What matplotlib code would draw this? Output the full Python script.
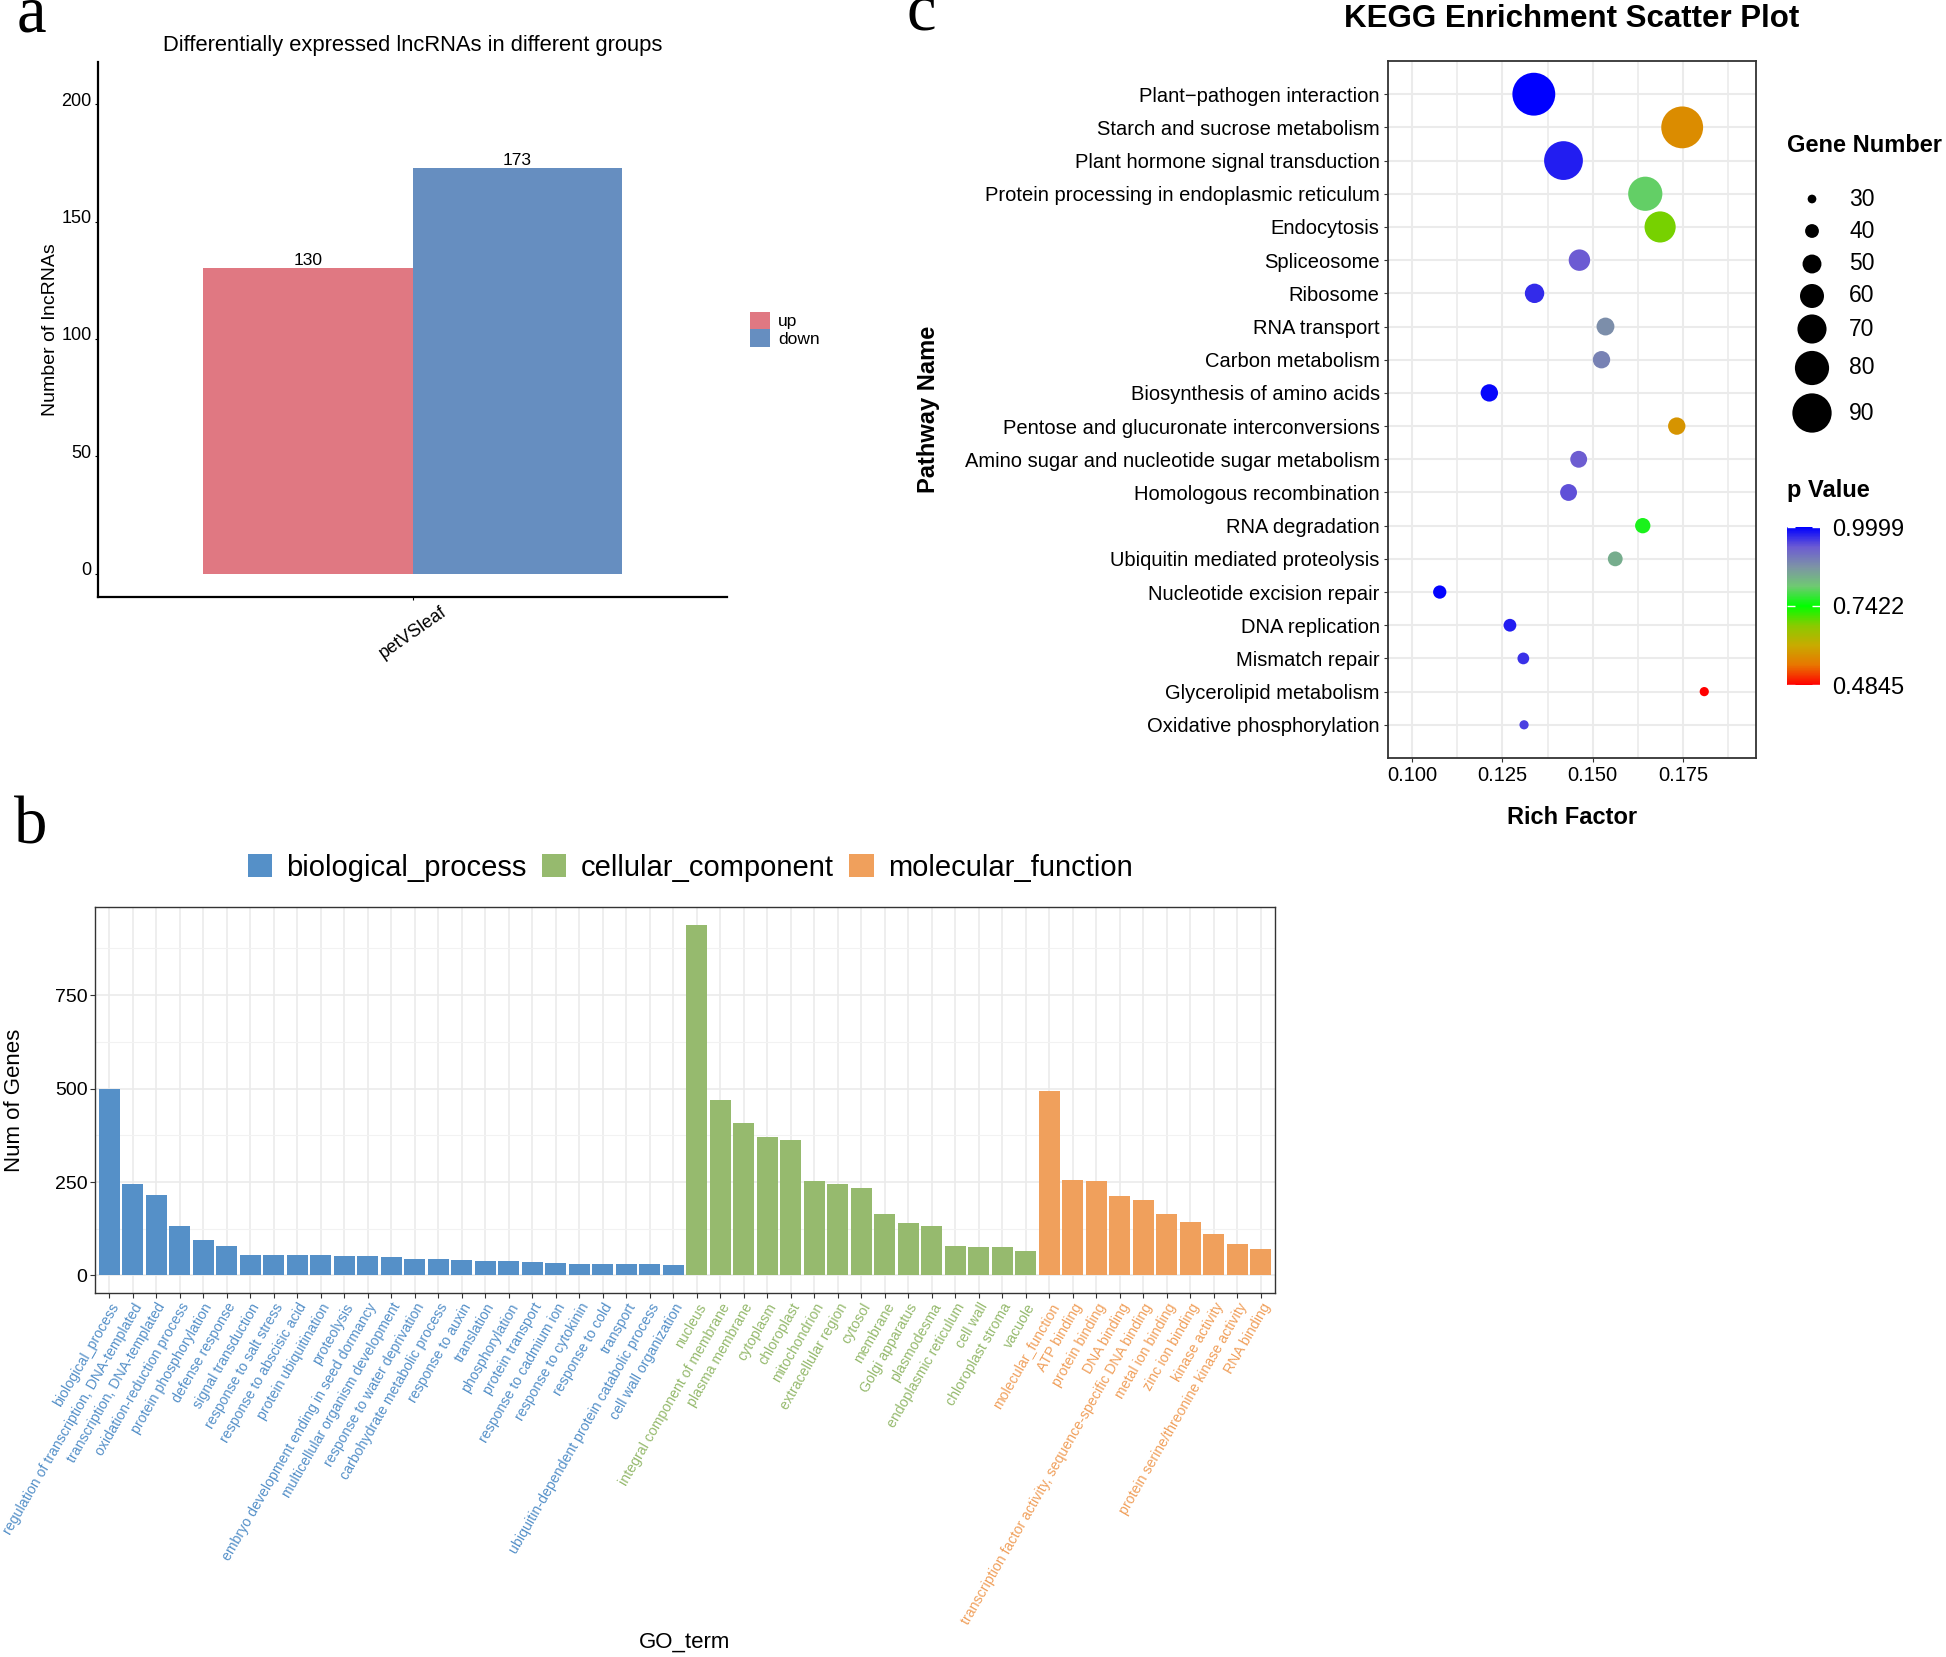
import numpy as np
import matplotlib
matplotlib.use('Agg')
import matplotlib.pyplot as plt
from matplotlib.colors import LinearSegmentedColormap, Normalize
from matplotlib.cm import ScalarMappable
from matplotlib.ticker import MultipleLocator, FormatStrFormatter
from matplotlib.transforms import ScaledTranslation

plt.rcParams['font.family'] = ['Liberation Sans', 'DejaVu Sans']

W, H = 1946, 1657


def rect(l, t, r, b):
    # pixel box -> figure fraction
    return [l / W, 1 - b / H, (r - l) / W, (b - t) / H]


# ---- panel a data
groups = ['petVSleaf']
de_labels = ['up', 'down']
de_counts = [130, 173]
de_colors = ['#E07882', '#668EC0']

# ---- panel b data
bp_terms = ['biological_process', 'regulation of transcription, DNA-templated',
            'transcription, DNA-templated', 'oxidation-reduction process',
            'protein phosphorylation', 'defense response', 'signal transduction',
            'response to salt stress', 'response to abscisic acid',
            'protein ubiquitination', 'proteolysis',
            'embryo development ending in seed dormancy',
            'multicellular organism development', 'response to water deprivation',
            'carbohydrate metabolic process', 'response to auxin', 'translation',
            'phosphorylation', 'protein transport', 'response to cadmium ion',
            'response to cytokinin', 'response to cold', 'transport',
            'ubiquitin-dependent protein catabolic process', 'cell wall organization']
bp_genes = [500, 245, 215, 133, 95, 79, 55, 55, 54, 54, 53, 52, 50, 44, 43,
            41, 38, 38, 36, 33, 31, 30, 30, 30, 29]

cc_terms = ['nucleus', 'integral component of membrane', 'plasma membrane',
            'cytoplasm', 'chloroplast', 'mitochondrion', 'extracellular region',
            'cytosol', 'membrane', 'Golgi apparatus', 'plasmodesma',
            'endoplasmic reticulum', 'cell wall', 'chloroplast stroma', 'vacuole']
cc_genes = [939, 469, 407, 371, 363, 254, 246, 235, 164, 140, 133, 79, 77, 76, 66]

mf_terms = ['molecular_function', 'ATP binding', 'protein binding', 'DNA binding',
            'transcription factor activity, sequence-specific DNA binding',
            'metal ion binding', 'zinc ion binding', 'kinase activity',
            'protein serine/threonine kinase activity', 'RNA binding']
mf_genes = [494, 256, 254, 212, 201, 164, 142, 111, 84, 71]

go_categories = ['biological_process', 'cellular_component', 'molecular_function']
go_colors = ['#5590C8', '#96BA6E', '#F0A05C']

# ---- panel c data
kegg_paths = ['Plant\u2212pathogen interaction', 'Starch and sucrose metabolism',
              'Plant hormone signal transduction',
              'Protein processing in endoplasmic reticulum', 'Endocytosis',
              'Spliceosome', 'Ribosome', 'RNA transport', 'Carbon metabolism',
              'Biosynthesis of amino acids',
              'Pentose and glucuronate interconversions',
              'Amino sugar and nucleotide sugar metabolism',
              'Homologous recombination', 'RNA degradation',
              'Ubiquitin mediated proteolysis', 'Nucleotide excision repair',
              'DNA replication', 'Mismatch repair', 'Glycerolipid metabolism',
              'Oxidative phosphorylation']
rich_factor = [0.1337, 0.1747, 0.1419, 0.1645, 0.1686, 0.1463, 0.1339, 0.1535,
               0.1524, 0.1214, 0.1732, 0.1461, 0.1433, 0.1638, 0.1562, 0.1077,
               0.1271, 0.1308, 0.1808, 0.1310]
gene_number = [97, 95, 89, 80, 74, 55, 51, 48, 47, 47, 47, 46, 46, 43, 42, 39,
               38, 36, 31, 31]
p_value = [0.9999, 0.577, 0.979, 0.799, 0.686, 0.935, 0.969, 0.876, 0.891,
           0.995, 0.587, 0.933, 0.943, 0.758, 0.840, 0.997, 0.979, 0.964,
           0.4845, 0.954]
size_breaks = [30, 40, 50, 60, 70, 80, 90]
p_breaks = [0.4845, 0.7422, 0.9999]

fig = plt.figure(figsize=(W / 100, H / 100), dpi=100)

# ================= panel a
axa = fig.add_axes(rect(98, 62, 727, 597))
for i, (lab, n, c) in enumerate(zip(de_labels, de_counts, de_colors)):
    xp = 0.8 + 0.4 * i
    axa.bar(xp, n, width=0.4, color=c, label=lab)
    axa.text(xp, n, str(n), ha='center', va='bottom', fontsize=12.5)
axa.set_xlim(0.4, 1.6)
axa.set_ylim(-10, 218)
axa.spines[['top', 'right']].set_visible(False)
axa.spines[['left', 'bottom']].set_linewidth(1.6)
axa.set_yticks([0, 50, 100, 150, 200])
axa.set_xticks([1])
axa.set_xticklabels(groups, rotation=35, ha='center')
axa.tick_params(axis='both', length=2.5, labelsize=13, pad=2)
# labels sit a little above their ticks, as in the original
lift = ScaledTranslation(0, 5 / 100, fig.dpi_scale_trans)
for lbl in axa.get_yticklabels():
    lbl.set_transform(lbl.get_transform() + lift)
axa.set_ylabel('Number of lncRNAs', fontsize=14)
axa.yaxis.set_label_coords(-0.076, 0.5)
axa.yaxis.label.set_va('center')
axa.set_title('Differentially expressed lncRNAs in different groups', fontsize=15.8, pad=8)
axa.legend(loc='upper left', bbox_to_anchor=(750 / W, 1 - 312 / H),
           bbox_transform=fig.transFigure, frameon=False, borderpad=0,
           borderaxespad=0, handlelength=1.15, handleheight=1.15,
           labelspacing=0.0, handletextpad=0.45, fontsize=12.5)

# ================= panel b
terms = bp_terms + cc_terms + mf_terms
genes = bp_genes + cc_genes + mf_genes
cat_of = ([0] * len(bp_terms)) + ([1] * len(cc_terms)) + ([2] * len(mf_terms))
x = np.arange(1, len(terms) + 1)

axb = fig.add_axes(rect(95, 907, 1275, 1293))
for k, (cat, col) in enumerate(zip(go_categories, go_colors)):
    idx = [i for i, c in enumerate(cat_of) if c == k]
    axb.bar(x[idx], [genes[i] for i in idx], width=0.9, color=col, label=cat, zorder=2)
axb.set_xlim(0.4, len(terms) + 0.6)
axb.set_ylim(-47, 986)
axb.set_yticks([0, 250, 500, 750])
axb.yaxis.set_minor_locator(MultipleLocator(125))
axb.set_axisbelow(True)
axb.grid(which='major', color='#EBEBEB', lw=1.2)
axb.grid(which='minor', axis='y', color='#F2F2F2', lw=0.8)
axb.set_xticks(x)
axb.set_xticklabels(terms, rotation=60, ha='right', va='top',
                    rotation_mode='anchor', fontsize=10.2)
for lbl, c in zip(axb.get_xticklabels(), cat_of):
    lbl.set_color(go_colors[c])
axb.tick_params(axis='both', which='major', length=3.5, color='#333333', pad=2)
axb.tick_params(axis='y', labelsize=14)
axb.tick_params(which='minor', length=0)
for s in axb.spines.values():
    s.set_color('#333333')
    s.set_linewidth(1.0)
axb.set_ylabel('Num of Genes', fontsize=16)
axb.yaxis.set_label_coords(-0.068, 0.5)
axb.yaxis.label.set_va('center')
axb.set_xlabel('GO_term', fontsize=16)
axb.xaxis.set_label_coords(0.5, -0.904)
axb.xaxis.label.set_va('center')
fig.legend(*axb.get_legend_handles_labels(), loc='center',
           bbox_to_anchor=(690 / W, 1 - 868 / H), ncol=3, frameon=False,
           fontsize=21, handlelength=0.83, handleheight=0.83,
           handletextpad=0.48, columnspacing=0.55)

# ================= panel c
cmap = LinearSegmentedColormap.from_list('pv', [
    (0.0, '#FF0000'), (0.125, '#E87600'), (0.25, '#C8AB00'), (0.375, '#8ACA00'),
    (0.5, '#00FF00'), (0.625, '#6FC972'), (0.75, '#7D93A6'), (0.875, '#6C5BD3'),
    (1.0, '#0000FF')])
norm = Normalize(min(p_value), max(p_value))


def gene_size(g):
    d_px = 8.7 + (np.asarray(g, dtype=float) - 30) * 0.51
    return (d_px * 0.72) ** 2


axc = fig.add_axes(rect(1388, 61, 1756, 758))
ypos = np.arange(len(kegg_paths))
axc.scatter(rich_factor, ypos, s=gene_size(gene_number), c=p_value, cmap=cmap,
            norm=norm, edgecolors='none', zorder=3)
axc.set_ylim(len(kegg_paths), -1)
axc.set_xlim(0.0934, 0.1951)
axc.set_yticks(ypos)
axc.set_yticklabels(kegg_paths)
axc.set_xticks([0.100, 0.125, 0.150, 0.175])
axc.xaxis.set_major_formatter(FormatStrFormatter('%.3f'))
axc.xaxis.set_minor_locator(MultipleLocator(0.0125))
axc.set_axisbelow(True)
axc.grid(which='major', color='#EBEBEB', lw=1.5)
axc.grid(which='minor', axis='x', color='#EBEBEB', lw=1.2)
axc.tick_params(which='major', length=3, color='#333333', labelsize=14.5, pad=3)
axc.tick_params(which='minor', length=0)
for s in axc.spines.values():
    s.set_color('#333333')
    s.set_linewidth(1.3)
axc.set_ylabel('Pathway Name', fontsize=17, fontweight='bold')
axc.yaxis.set_label_coords((928 - 1388) / 368, 0.5)
axc.yaxis.label.set_va('center')
axc.set_xlabel('Rich Factor', fontsize=17, fontweight='bold')
axc.xaxis.set_label_coords(0.5, -(817 - 758) / 697)
axc.xaxis.label.set_va('center')
fig.text(1572 / W, 1 - 27 / H, 'KEGG Enrichment Scatter Plot', ha='center',
         va='baseline', fontsize=22.5, fontweight='bold')

# size legend
fig.text(1787 / W, 1 - 146 / H, 'Gene Number', ha='left', va='center',
         fontsize=17, fontweight='bold')
axl = fig.add_axes(rect(1787, 170, 1946, 440))
axl.set_xlim(1787, 1946)
axl.set_ylim(440, 170)
axl.axis('off')
key_y = [199, 231, 264, 296, 329, 368, 413]
axl.scatter([1812] * len(size_breaks), key_y, s=gene_size(size_breaks),
            color='black', edgecolors='none', clip_on=False)
for v, yy in zip(size_breaks, key_y):
    axl.text(1849, yy, str(v), ha='left', va='center', fontsize=16.5)

# colour bar
fig.text(1787 / W, 1 - 490 / H, 'p Value', ha='left', va='center',
         fontsize=17, fontweight='bold')
cax = fig.add_axes(rect(1787, 527, 1820, 685))
cb = fig.colorbar(ScalarMappable(norm=norm, cmap=cmap), cax=cax, ticks=p_breaks)
cb.outline.set_visible(False)
cb.ax.set_yticklabels(['%.4f' % v for v in p_breaks])
cax.tick_params(axis='y', direction='in', length=6, width=1, color='white',
                left=True, right=True, labelsize=17, pad=9)

# panel letters
for ch, px, py in [('a', 31, 31), ('c', 921, 30), ('b', 31, 844)]:
    fig.text(px / W, 1 - py / H, ch, ha='center', va='baseline',
             fontsize=48, family='Liberation Serif')

fig.savefig('out.png', dpi=100)
